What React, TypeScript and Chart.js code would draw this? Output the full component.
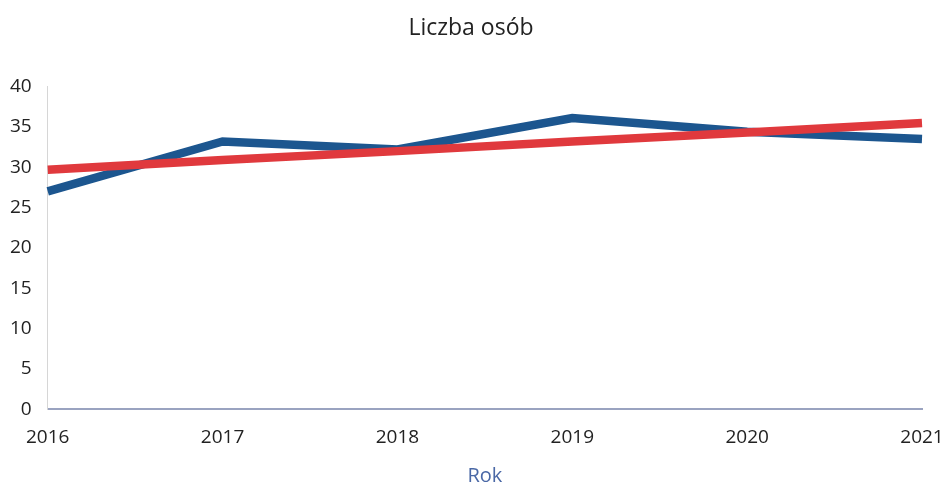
import React, { useEffect, useRef } from "react";
import { Chart, registerables } from "chart.js";

Chart.register(...registerables);

const years = ["2016", "2017", "2018", "2019", "2020", "2021"];
const liczbaOsob = [27.0, 33.2, 32.2, 36.1, 34.4, 33.5];
const trend = [29.7, 30.9, 32.0, 33.2, 34.3, 35.5];
const chartTitle = "Liczba osób";
const xTitle = "Rok";

export default function App() {
  const ref = useRef<HTMLCanvasElement | null>(null);
  useEffect(() => {
    document.body.style.margin = "0";
    const ctx = ref.current!;
    const chart = new Chart(ctx, {
      type: "line",
      data: {
        labels: years,
        datasets: [
          {
            label: "Liczba osób",
            data: liczbaOsob,
            borderColor: "#1c568f",
            borderWidth: 8.5,
            pointRadius: 0,
            tension: 0,
            borderCapStyle: "butt",
            borderJoinStyle: "miter",
            order: 2,
          },
          {
            label: "Trend",
            data: trend,
            borderColor: "#e0393d",
            borderWidth: 8.5,
            pointRadius: 0,
            tension: 0,
            borderCapStyle: "butt",
            order: 1,
          },
        ],
      },
      options: {
        animation: false,
        responsive: false,
        maintainAspectRatio: false,
        layout: { padding: { top: 4, left: 2, right: 2, bottom: 0 } },
        plugins: {
          legend: { display: false },
          tooltip: { enabled: false },
          title: {
            display: true,
            text: chartTitle,
            color: "#222",
            font: { family: "Open Sans", size: 23, weight: "normal" },
            padding: { top: 11, bottom: 44 },
          },
        },
        scales: {
          x: {
            type: "category",
            offset: false,
            grid: { display: false },
            border: { display: true, color: "#9aa3c0", width: 2 },
            afterFit: (scale: any) => {
              scale.paddingRight = 20;
            },
            ticks: {
              color: "#222",
              font: { family: "Open Sans", size: 19 },
              maxRotation: 0,
              padding: 9,
            },
            title: {
              display: true,
              text: xTitle,
              color: "#4a68a6",
              font: { family: "Open Sans", size: 20 },
              padding: { top: 6, bottom: 0 },
            },
          },
          y: {
            min: 0,
            max: 40,
            grid: { display: false },
            border: { display: true, color: "#d6d6d6", width: 1 },
            ticks: {
              stepSize: 5,
              color: "#222",
              font: { family: "Open Sans", size: 19 },
              padding: 8,
            },
          },
        },
      },
    });
    return () => chart.destroy();
  }, []);
  return (
    <div style={{ width: 942, height: 488 }}>
      <canvas ref={ref} width={942} height={488} />
    </div>
  );
}
